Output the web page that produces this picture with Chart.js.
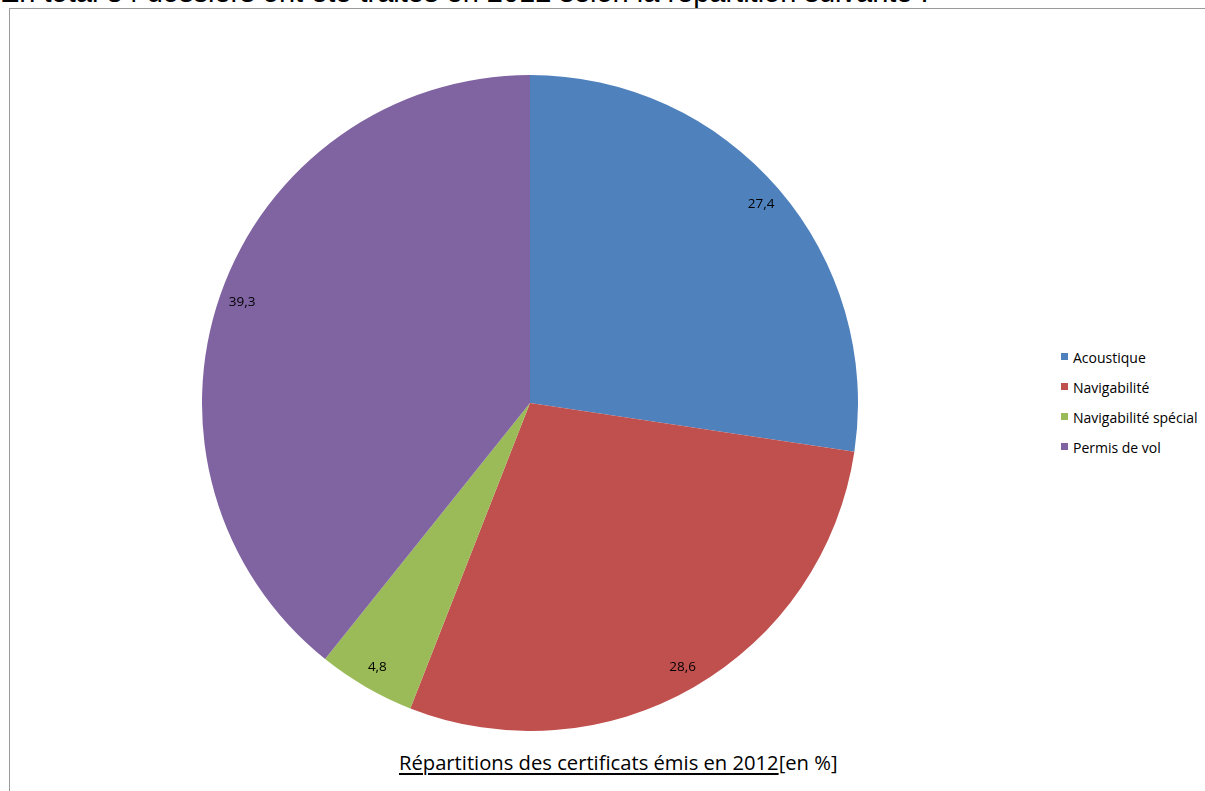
<!DOCTYPE html>
<html lang="fr">
<head>
<meta charset="utf-8">
<title>Répartitions des certificats émis en 2012</title>
<script src="https://cdn.jsdelivr.net/npm/chart.js@4"></script>
<style>
    html, body { margin: 0; padding: 0; background: #fff; overflow: hidden; }
    body { width: 1205px; height: 791px; position: relative; }
    .intro {
        position: absolute; left: 0; top: -22px; white-space: nowrap;
        font: 29px/29px "Liberation Sans", Arial, sans-serif; color: #000;
    }
    .frame {
        position: absolute; left: 9px; top: 8px; width: 1210px; height: 800px;
        border: 1px solid #9a9a9a; box-sizing: border-box;
    }
    #pieWrap { position: absolute; left: 202px; top: 75px; width: 656px; height: 656px; }
    .legend {
        position: absolute; left: 1061px; top: 348px;
        font: 14px/19px "Open Sans", "Noto Sans", sans-serif; color: #000;
    }
    .legend-item { height: 30px; display: flex; align-items: flex-start; white-space: nowrap; }
    .legend-color { width: 7px; height: 7px; margin: 5px 5px 0 0; display: inline-block; }
    .caption {
        position: absolute; left: 399px; top: 748px; white-space: nowrap;
        font: 20.2px "Open Sans", "Noto Sans", sans-serif; color: #000;
    }
    .caption u { text-underline-offset: 3px; }
</style>
</head>
<body>
<div class="intro">En total 84 dossiers ont été traités en 2012 selon la répartition suivante :</div>
<div class="frame"></div>
<div id="pieWrap"><canvas id="certChart"></canvas></div>
<div class="legend" id="certLegend"></div>
<div class="caption"><u>Répartitions des certificats émis en 2012</u>[en %]</div>

<script>
const categories = ['Acoustique', 'Navigabilité', 'Navigabilité spécial', 'Permis de vol'];
const percentages = [27.4, 28.6, 4.8, 39.3];
const sliceColors = ['#4F81BD', '#C0504D', '#9BBB59', '#8064A2'];

// value labels drawn just inside the outer edge of each slice
const sliceLabels = {
    id: 'sliceLabels',
    afterDatasetsDraw(chart) {
        const ctx = chart.ctx;
        const meta = chart.getDatasetMeta(0);
        ctx.save();
        ctx.font = '13.5px "Open Sans", "Noto Sans", sans-serif';
        ctx.fillStyle = '#000';
        ctx.textAlign = 'center';
        ctx.textBaseline = 'middle';
        meta.data.forEach((arc, i) => {
            const p = arc.getProps(['x', 'y', 'startAngle', 'endAngle', 'outerRadius'], true);
            const mid = (p.startAngle + p.endAngle) / 2;
            const r = p.outerRadius - 23;
            const text = percentages[i].toFixed(1).replace('.', ',');
            ctx.fillText(text, p.x + Math.cos(mid) * r, p.y + Math.sin(mid) * r);
        });
        ctx.restore();
    }
};

new Chart(document.getElementById('certChart'), {
    type: 'pie',
    data: {
        labels: categories,
        datasets: [{
            data: percentages,
            backgroundColor: sliceColors,
            borderWidth: 0
        }]
    },
    options: {
        responsive: true,
        maintainAspectRatio: false,
        animation: false,
        layout: { padding: 0 },
        plugins: {
            legend: { display: false },
            tooltip: { enabled: false }
        }
    },
    plugins: [sliceLabels]
});

// legend on the right
const legendContainer = document.getElementById('certLegend');
categories.forEach((label, index) => {
    const item = document.createElement('div');
    item.classList.add('legend-item');
    const box = document.createElement('span');
    box.classList.add('legend-color');
    box.style.backgroundColor = sliceColors[index];
    const text = document.createElement('span');
    text.textContent = label;
    item.appendChild(box);
    item.appendChild(text);
    legendContainer.appendChild(item);
});
</script>
</body>
</html>
